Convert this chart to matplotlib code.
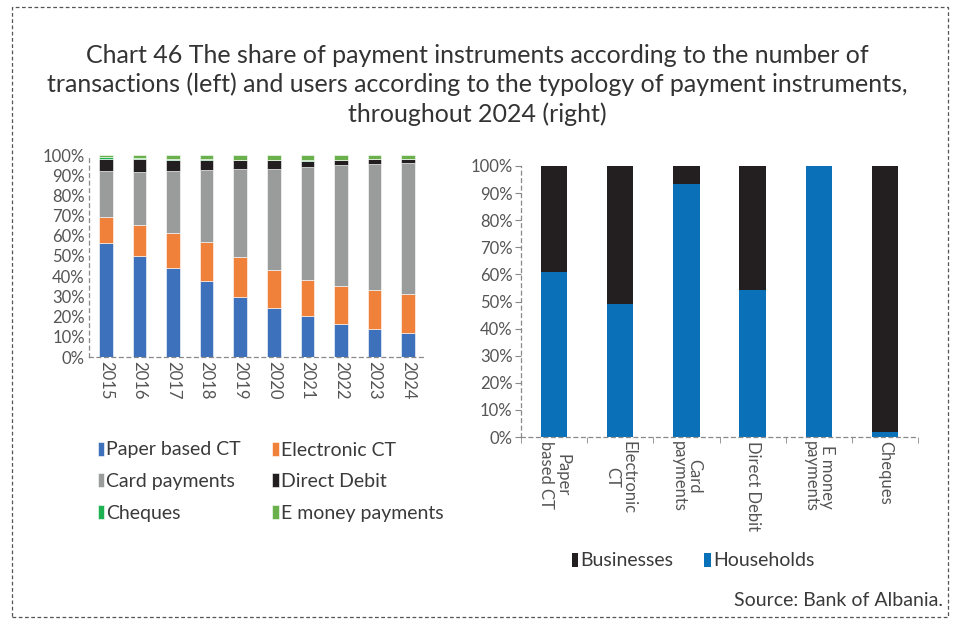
import matplotlib
matplotlib.use("Agg")
import matplotlib.pyplot as plt
import numpy as np
from matplotlib.patches import Rectangle

plt.rcParams['font.family'] = ['Lato', 'DejaVu Sans']

years = ['2015', '2016', '2017', '2018', '2019', '2020', '2021', '2022', '2023', '2024']
paper_ct = [56.5, 49.9, 44.1, 37.5, 29.8, 24.3, 20.3, 16.4, 13.9, 11.9]
electronic_ct = [12.9, 15.2, 17.1, 19.5, 19.5, 18.7, 18.0, 18.6, 19.5, 19.5]
card = [22.7, 26.6, 30.9, 35.4, 43.6, 50.2, 55.9, 59.9, 62.1, 64.6]
direct_debit = [5.9, 6.2, 5.6, 5.1, 4.6, 4.2, 3.0, 2.6, 2.4, 2.0]
cheques = [1.0, 0.6, 0.4, 0.3, 0.2, 0.1, 0.1, 0.1, 0.1, 0.1]
emoney = [1.0, 1.5, 1.9, 2.2, 2.3, 2.5, 2.7, 2.4, 2.0, 1.9]

left_series = [
    ('Paper based CT', paper_ct, '#3D71BC'),
    ('Electronic CT', electronic_ct, '#F0813A'),
    ('Card payments', card, '#9A9C9C'),
    ('Direct Debit', direct_debit, '#231F20'),
    ('Cheques', cheques, '#1DB151'),
    ('E money payments', emoney, '#6AB04C'),
]

instruments = ['Paper\nbased CT', 'Electronic\nCT', 'Card\npayments', 'Direct Debit', 'E money\npayments', 'Cheques']
households = [60.8, 49.2, 93.5, 54.1, 100.0, 1.8]
businesses = [39.2, 50.8, 6.5, 45.9, 0.0, 98.2]

W, H = 955, 624
fig = plt.figure(figsize=(W / 100, H / 100), dpi=100)
fig.patch.set_facecolor('white')

# dashed frame
fig.patches.append(Rectangle((12 / W, 7 / H), 936 / W, 610 / H, transform=fig.transFigure,
                             fill=False, edgecolor='#555555', linestyle=(0, (3, 2)), linewidth=0.9))

txt_color = '#3a3a3a'
fig.text(0.5, 1 - 85 / H,
         'Chart 46 The share of payment instruments according to the number of\n'
         'transactions (left) and users according to the typology of payment instruments,\n'
         'throughout 2024 (right)',
         ha='center', va='center', fontsize=18, color='#333333', linespacing=1.3)

def ax_rect(x0, y0, x1, y1):
    return [x0 / W, 1 - y1 / H, (x1 - x0) / W, (y1 - y0) / H]

# Left chart
ax1 = fig.add_axes(ax_rect(89, 155, 425, 357))
x = np.arange(len(years))
bottom = np.zeros(len(years))
handles = []
for name, vals, col in left_series:
    b = ax1.bar(x, vals, 0.4, bottom=bottom, color=col, edgecolor='white', linewidth=0.4, label=name)
    bottom += np.array(vals)
    handles.append(b)
ax1.set_xlim(-0.5, len(years) - 0.5)
ax1.set_ylim(0, 100)
ax1.set_yticks(np.arange(0, 101, 10))
ax1.set_yticklabels([f'{v}%' for v in range(0, 101, 10)], fontsize=12, color='#555555')
ax1.set_xticks(x)
ax1.set_xticklabels(years, rotation=270, fontsize=12, color='#555555')
ax1.tick_params(axis='both', length=0, pad=3)
for s in ['top', 'right']:
    ax1.spines[s].set_visible(False)
for s in ['left', 'bottom']:
    ax1.spines[s].set_linestyle((0, (3, 3)))
    ax1.spines[s].set_color('#888888')
    ax1.spines[s].set_linewidth(0.9)

order = [0, 2, 4, 1, 3, 5]
fig.legend(handles=[handles[i] for i in order], labels=[left_series[i][0] for i in order], ncol=2,
           loc='upper left', bbox_to_anchor=(80 / W, 1 - 424 / H), frameon=False,
           fontsize=14, handlelength=0.35, handleheight=0.7, handletextpad=0.1,
           columnspacing=1.6, labelspacing=0.75, labelcolor=txt_color)

# Right chart
ax2 = fig.add_axes(ax_rect(521, 166, 918, 437))
x2 = np.arange(len(instruments))
hb = ax2.bar(x2, households, 0.4, color='#0A71B9', edgecolor='none', label='Households')
bb = ax2.bar(x2, businesses, 0.4, bottom=households, color='#231F20', edgecolor='none', label='Businesses')
ax2.set_xlim(-0.5, len(instruments) - 0.5)
ax2.set_ylim(0, 100)
ax2.set_yticks(np.arange(0, 101, 10))
ax2.set_yticklabels([f'{v}%' for v in range(0, 101, 10)], fontsize=12, color='#555555')
ax2.set_xticks(x2)
ax2.set_xticklabels(instruments, rotation=270, fontsize=12, color='#555555', va='top', ha='center',
                    linespacing=1.0)
ax2.tick_params(axis='x', length=0, pad=3)
ax2.tick_params(axis='y', length=4, direction='out', color='#888888', pad=2)
ax2.set_xticks(np.arange(-0.5, len(instruments), 1.0), minor=True)
ax2.tick_params(axis='x', which='minor', length=4, direction='out', color='#888888')
for s in ['top', 'right']:
    ax2.spines[s].set_visible(False)
for s in ['left', 'bottom']:
    ax2.spines[s].set_linestyle((0, (3, 3)))
    ax2.spines[s].set_color('#888888')
    ax2.spines[s].set_linewidth(0.9)

fig.legend(handles=[bb, hb], labels=['Businesses', 'Households'], ncol=2,
           loc='center left', bbox_to_anchor=(554 / W, 1 - 561 / H), frameon=False,
           fontsize=14, handlelength=0.35, handleheight=0.7, handletextpad=0.1,
           columnspacing=1.6, labelcolor=txt_color)

fig.text(943 / W, 1 - 600 / H, 'Source: Bank of Albania.', ha='right', va='center',
         fontsize=14, color=txt_color)

fig.savefig('out.png', dpi=100, facecolor='white')
